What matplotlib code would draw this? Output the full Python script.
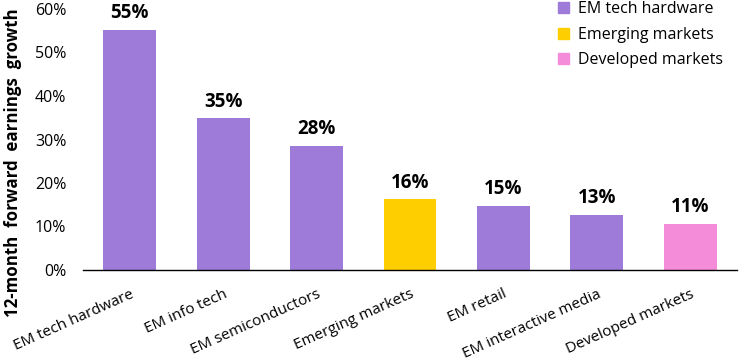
import matplotlib
matplotlib.use("Agg")
import matplotlib.pyplot as plt
from matplotlib.patches import Patch
from matplotlib.ticker import PercentFormatter

plt.rcParams["font.family"] = ["Open Sans", "DejaVu Sans"]

categories = ["EM tech hardware", "EM info tech", "EM semiconductors",
              "Emerging markets", "EM retail", "EM interactive media",
              "Developed markets"]
values = [55.2, 34.9, 28.5, 16.3, 14.8, 12.7, 10.6]
labels = ["55%", "35%", "28%", "16%", "15%", "13%", "11%"]
groups = ["EM tech hardware", "EM tech hardware", "EM tech hardware",
          "Emerging markets", "EM tech hardware", "EM tech hardware",
          "Developed markets"]

COLORS = {
    "EM tech hardware": "#9E7BD8",
    "Emerging markets": "#FFCE00",
    "Developed markets": "#F58CDA",
}

fig = plt.figure(figsize=(7.4, 3.61), dpi=100)
ax = fig.add_axes([83 / 740, 1 - 270 / 361, 654 / 740, 261 / 361])

xs = range(len(categories))
ax.bar(xs, values, width=0.565, color=[COLORS[g] for g in groups])
for x, v, lab in zip(xs, values, labels):
    ax.text(x, v + 1.5, lab, ha="center", va="bottom",
            fontsize=13.5, fontweight="bold")

ax.set_xlim(-0.5, len(categories) - 0.5)
ax.set_ylim(0, 60)
ax.set_yticks(range(0, 61, 10))
ax.yaxis.set_major_formatter(PercentFormatter(decimals=0))
ax.set_xticks(list(xs))
ax.set_xticklabels(categories, rotation=24, ha="right",
                   rotation_mode="anchor", fontsize=11)
ax.tick_params(axis="both", length=0)
ax.tick_params(axis="y", pad=12, labelsize=11.5)
ax.tick_params(axis="x", pad=12)
for side in ["top", "right", "left"]:
    ax.spines[side].set_visible(False)
ax.spines["bottom"].set_linewidth(1.0)
ax.set_ylabel("12-month  forward  earnings  growth", fontweight="bold",
              fontsize=12.2)
ax.yaxis.set_label_coords(-0.094, 0.412)

handles = [Patch(color=COLORS[k], label=k) for k in COLORS]
ax.legend(handles=handles, loc="upper right", frameon=False, fontsize=11.5,
          handlelength=0.7, handleheight=0.7, handletextpad=0.55,
          labelspacing=0.6, bbox_to_anchor=(1.0, 1.085))

fig.savefig("out.png", dpi=100)
